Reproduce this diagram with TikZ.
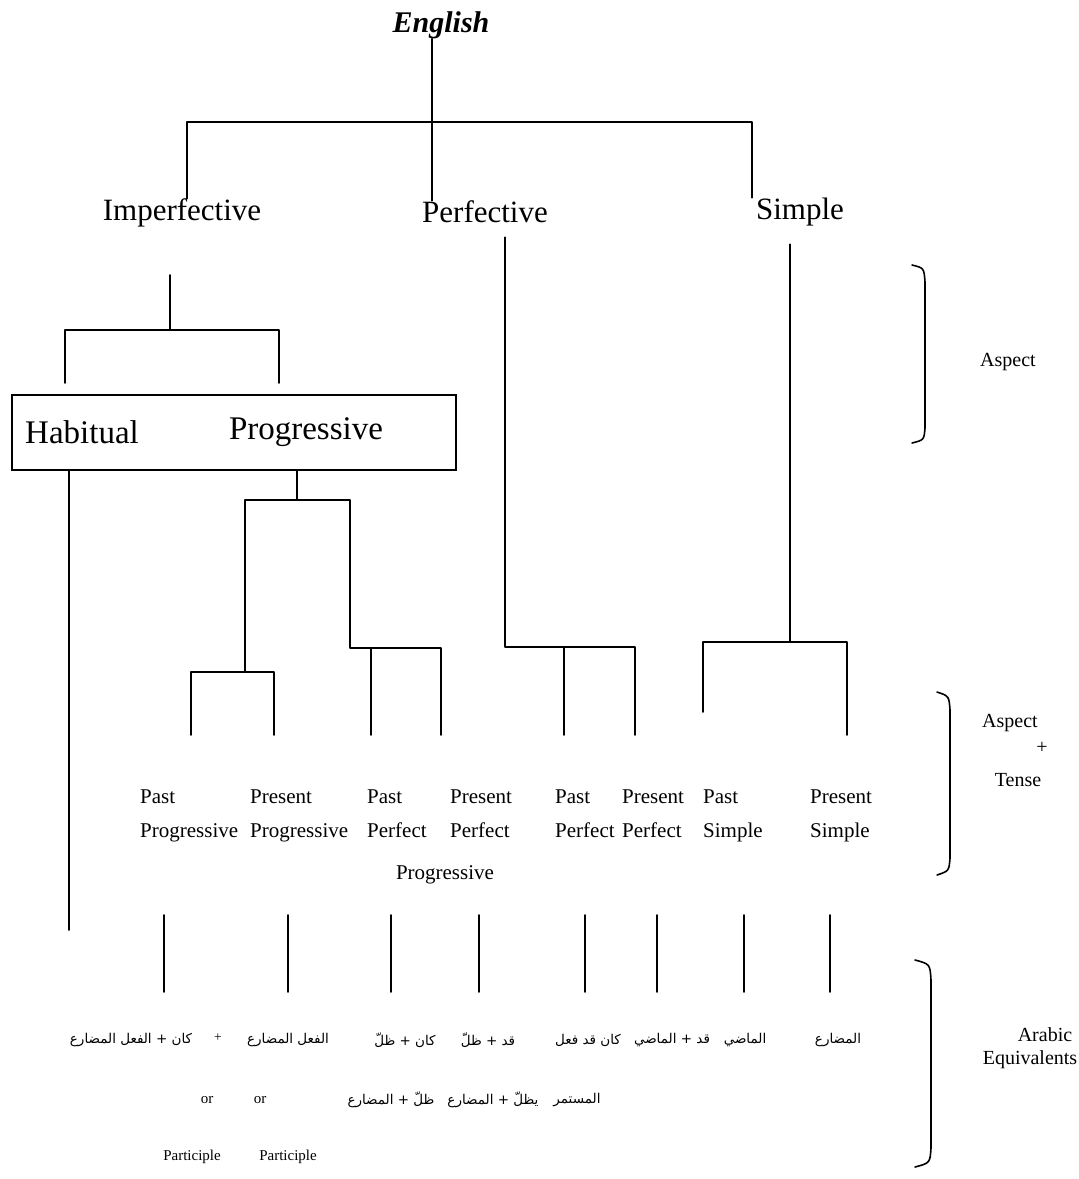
\documentclass[tikz,border=0pt]{standalone}
\usepackage{fontspec}
\setmainfont{Liberation Serif}
\newfontfamily\arabicfont[Script=Arabic]{DejaVu Sans}
\TeXXeTstate=1
\newcommand\AR[1]{{\arabicfont\beginR #1\endR}}
\tikzset{
  ln/.style={line width=1.6pt, black, line cap=round, line join=round},
  lbl/.style={inner sep=0pt, font=\fontsize{31}{34}\selectfont},
  tense/.style={inner sep=0pt, align=left, anchor=north west, font=\fontsize{21}{34}\selectfont},
  side/.style={inner sep=0pt, font=\fontsize{20}{24}\selectfont},
  ar/.style={inner sep=0pt, font=\fontsize{13.5}{16}\selectfont},
  part/.style={inner sep=0pt, font=\fontsize{15}{18}\selectfont},
}
\begin{document}
\begin{tikzpicture}[x=1pt,y=-1pt]
\fill[white] (0,0) rectangle (1079,1179);
\useasboundingbox (0,0) rectangle (1079,1179);

% ---- top level
\node[lbl, font=\fontsize{30}{34}\selectfont\bfseries\itshape] (eng) at (441,25) {English};
\node[lbl] (imp) at (182,213) {Imperfective};
\node[lbl] (perf) at (485,212) {Perfective};
\node[lbl] (simp) at (800,212) {Simple};

\coordinate (j0) at (432,122);
\coordinate (jl) at (187,122);
\coordinate (jr) at (752,122);
\draw[ln] (eng.south -| j0) -- (j0);
\draw[ln] (imp.north -| jl) -- (jl) -- (jr) -- (simp.north -| jr);
\draw[ln] (j0) -- (perf.north -| j0);

% ---- imperfective box
\node[draw, line width=1.6pt, minimum width=444pt, minimum height=75pt, inner sep=0pt] (box) at (234,432.5) {};
\node[lbl, font=\fontsize{33}{36}\selectfont] (hab) at (82,432) {Habitual};
\node[lbl, font=\fontsize{33}{36}\selectfont] (prog) at (306,432) {Progressive};

\coordinate (ims) at (170,275);
\coordinate (imj) at (170,330);
\coordinate (iml) at (65,330);
\coordinate (imr) at (279,330);
\coordinate (imlb) at (65,383);
\coordinate (imrb) at (279,383);
\draw[ln] (ims) -- (imj);
\draw[ln] (imlb) -- (iml) -- (imr) -- (imrb);

% ---- habitual line
\coordinate (hb) at (69,930);
\draw[ln] (box.south -| hb) -- (hb);

% ---- progressive subtree
\coordinate (pg0) at (297,500);
\coordinate (pgl) at (245,500);
\coordinate (pgr) at (350,500);
\draw[ln] (box.south -| pg0) -- (pg0);
\coordinate (pgla) at (245,672);
\coordinate (pgll) at (191,672);
\coordinate (pglr) at (274,672);
\coordinate (pgllb) at (191,735);
\coordinate (pglrb) at (274,735);
\coordinate (pgra) at (350,648);
\coordinate (pgre) at (441,648);
\coordinate (pgrl) at (371,648);
\coordinate (pgrlb) at (371,735);
\coordinate (pgreb) at (441,735);
\draw[ln] (pgla) -- (pgl) -- (pgr) -- (pgra) -- (pgre) -- (pgreb);
\draw[ln] (pgllb) -- (pgll) -- (pglr) -- (pglrb);
\draw[ln] (pgrl) -- (pgrlb);

% ---- perfective subtree
\coordinate (pf) at (505,647);
\coordinate (pfr) at (635,647);
\coordinate (pfa) at (564,647);
\coordinate (pfab) at (564,735);
\coordinate (pfrb) at (635,735);
\draw[ln] (perf.south -| pf) ++(0,14) -- (pf) -- (pfr) -- (pfrb);
\draw[ln] (pfa) -- (pfab);

% ---- simple subtree
\coordinate (sm) at (790,642);
\coordinate (sml) at (703,642);
\coordinate (smr) at (847,642);
\coordinate (smlb) at (703,712);
\coordinate (smrb) at (847,735);
\draw[ln] (simp.south -| sm) ++(0,18) -- (sm);
\draw[ln] (smlb) -- (sml) -- (smr) -- (smrb);

% ---- tense labels
\node[tense] (t1) at (140,790) {Past\\Progressive};
\node[tense] (t2) at (250,790) {Present\\Progressive};
\node[tense] (t3) at (367,790) {Past\\Perfect};
\node[tense] (t4) at (450,790) {Present\\Perfect};
\node[inner sep=0pt, font=\fontsize{21}{24}\selectfont] (t34) at (445,875) {Progressive};
\node[tense] (t5) at (555,790) {Past\\Perfect};
\node[tense] (t6) at (622,790) {Present\\Perfect};
\node[tense] (t7) at (703,790) {Past\\Simple};
\node[tense] (t8) at (810,790) {Present\\Simple};

% ---- ticks to Arabic equivalents
\foreach \x [count=\i] in {164,288,391,479,585,657,744,830}{
  \coordinate (ta\i) at (\x,915);
  \coordinate (tb\i) at (\x,992);
  \draw[ln] (ta\i) -- (tb\i);
}

% ---- Arabic equivalents
\node[ar] (a1) at (131,1040) {\AR{كان + الفعل المضارع}};
\node[ar] (a2) at (218,1038) {+};
\node[ar] (a3) at (288,1040) {\AR{الفعل المضارع}};
\node[ar] (a4) at (405,1040) {\AR{كان + ظلّ}};
\node[ar] (a5) at (488,1040) {\AR{قد + ظلّ}};
\node[ar] (a6) at (588,1040) {\AR{كان قد فعل}};
\node[ar] (a7) at (672,1040) {\AR{قد + الماضي}};
\node[ar] (a8) at (745,1040) {\AR{الماضي}};
\node[ar] (a9) at (838,1040) {\AR{المضارع}};

\node[part] (o1) at (207,1100) {or};
\node[part] (o2) at (260,1100) {or};
\node[ar] (b1) at (391,1100) {\AR{ظلّ + المضارع}};
\node[ar] (b2) at (493,1100) {\AR{يظلّ + المضارع}};
\node[ar] (b3) at (577,1100) {\AR{المستمر}};

\node[part] (p1) at (192,1157) {Participle};
\node[part] (p2) at (288,1157) {Participle};

% ---- side brackets and labels
\draw[ln] (912,265) .. controls (924,268) .. (925,282) -- (925,428) .. controls (924,440) .. (912,443);
\node[side] (asp1) at (1008,362) {Aspect};

\draw[ln] (937,692) .. controls (949,696) .. (950,710) -- (950,858) .. controls (949,871) .. (937,875);
\node[side] (asp2) at (1010,723) {Aspect};
\node[side] (plus) at (1042,748) {+};
\node[side] (tns) at (1018,780) {Tense};

\draw[ln] (915,960) .. controls (930,964) .. (931,980) -- (931,1148) .. controls (930,1163) .. (915,1167);
\node[side] (arl) at (1045,1035) {Arabic};
\node[side] (eql) at (1030,1060) {Equivalents};
\end{tikzpicture}
\end{document}
